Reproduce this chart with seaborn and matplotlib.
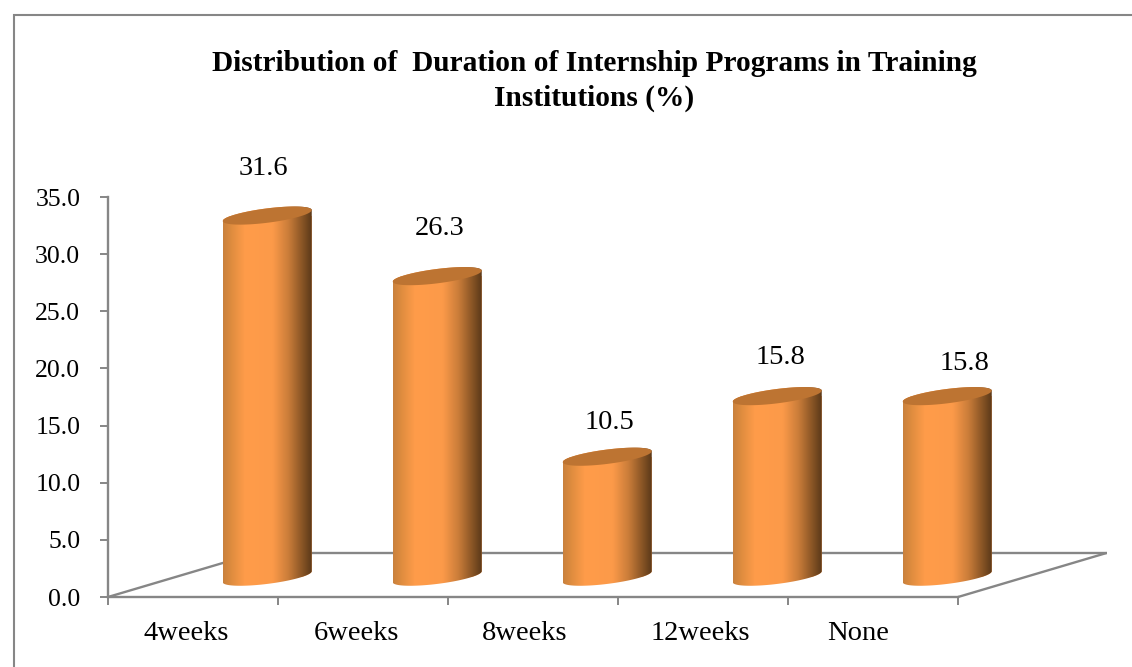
import numpy as np
import matplotlib
matplotlib.use("Agg")
import matplotlib.pyplot as plt
import seaborn as sns
from matplotlib.colors import LinearSegmentedColormap
from matplotlib.lines import Line2D
from matplotlib.patches import Polygon
from matplotlib.transforms import Affine2D

categories = ["4weeks", "6weeks", "8weeks", "12weeks", "None"]
values = [31.6, 26.3, 10.5, 15.8, 15.8]
y_ticks = [0, 5, 10, 15, 20, 25, 30, 35]
title_text = "Distribution of  Duration of Internship Programs in Training\nInstitutions (%)"

# layout (pixels / style only)
W, H = 1132, 667
AX_L, AX_R, AX_T, AX_B = 108, 958, 197, 597
label_nudge = [(-4, 35), (2, 35), (2, 22), (3, 26), (17, 20)]
tick_nudge = [-7, -7, -8, -3, -14.5]
GREY = "#868686"

sns.set_theme(style="white")
plt.rcParams["font.family"] = ["Liberation Serif", "DejaVu Serif"]

fig = plt.figure(figsize=(W / 100, H / 100), dpi=100, facecolor="white")
ax = fig.add_axes([AX_L / W, 1 - AX_B / H, (AX_R - AX_L) / W, (AX_B - AX_T) / H])

df = {"cat": categories, "val": values}
sns.barplot(x="cat", y="val", data=df, ax=ax, width=0.5235, color="#FF9B4A",
            saturation=1, linewidth=0, zorder=3)

ax.set_xlim(-0.5, 4.5)
ax.set_ylim(0, 35)
px_x = (AX_R - AX_L) / 5
px_y = (AX_B - AX_T) / 35

# perspective floor: bars stand at its mid-depth
floor_dx, floor_dy = 148.5 / px_x, 44 / px_y
dx, dy = floor_dx / 2, floor_dy / 2 - 0.15
tilt, minor = 5.5 / px_y, 7.2 / px_y

floor_kw = dict(color=GREY, lw=1.7, clip_on=False, zorder=1, solid_capstyle="butt")
ax.plot([-0.5, -0.5 + floor_dx], [0, floor_dy], **floor_kw)
ax.plot([-0.5 + floor_dx, 4.5 + floor_dx], [floor_dy, floor_dy], **floor_kw)
ax.plot([4.5, 4.5 + floor_dx], [0, floor_dy], **floor_kw)

cmap = LinearSegmentedColormap.from_list(
    "cyl",
    [(0.0, "#C9813D"), (0.1, "#E08D3F"), (0.25, "#FF9C4A"), (0.56, "#FC9A49"),
     (0.74, "#C97C39"), (0.88, "#8E5827"), (1.0, "#5B3919")],
)
grad = np.linspace(0, 1, 256)[None, :]


def ellipse(cx, cy, a, t):
    return np.c_[cx + a * np.cos(t), cy + tilt * np.cos(t) + minor * np.sin(t)]


for bar, val, nudge in zip(ax.patches, values, label_nudge):
    a = bar.get_width() / 2
    cx = bar.get_x() + a + dx
    base, top = dy, val + dy
    outline = np.vstack([
        ellipse(cx, top, a, np.linspace(np.pi, 0, 80)),
        ellipse(cx, base, a, np.linspace(0, -np.pi, 80)),
    ])
    clip = Polygon(outline, closed=True, transform=ax.transData)
    bar.set_transform(Affine2D().translate(dx, dy) + ax.transData)
    bar.set_clip_box(fig.bbox)
    bar.set_clip_path(clip)
    im = ax.imshow(grad, cmap=cmap, aspect="auto", zorder=4, interpolation="bilinear",
                   extent=[cx - a, cx + a, base - 1.5, top + 1.5])
    im.set_clip_box(fig.bbox)
    im.set_clip_path(clip)
    cap = Polygon(ellipse(cx, top, a, np.linspace(0, 2 * np.pi, 120)), closed=True,
                  facecolor="#BD7432", edgecolor="none", zorder=5, clip_on=False)
    ax.add_patch(cap)
    ax.annotate(f"{val:.1f}", xy=(cx, top), xytext=nudge,
                textcoords="offset pixels", ha="center", va="bottom", fontsize=20.5,
                color="black", annotation_clip=False, zorder=6)

ax.set_xlim(-0.5, 4.5)
ax.set_ylim(0, 35)
ax.set_xlabel("")
ax.set_ylabel("")
ax.set_yticks(y_ticks)
ax.set_yticklabels([f"{t:.1f}" for t in y_ticks], fontsize=18.5, color="black")
ax.set_xticks(np.arange(-0.5, 5, 1))
ax.set_xticklabels([""] * 6)
for i, (name, n) in enumerate(zip(categories, tick_nudge)):
    ax.annotate(name, xy=(i, 0), xytext=(n, -36), textcoords="offset pixels",
                ha="center", va="center", fontsize=20.5, color="black", annotation_clip=False)

ax.tick_params(axis="x", which="major", direction="out", length=5.5, width=1.4,
               color=GREY, bottom=True)
ax.tick_params(axis="y", which="major", direction="out", length=5.5, width=1.4,
               color=GREY, left=True, pad=14.4)
sns.despine(ax=ax)
for s in ("left", "bottom"):
    ax.spines[s].set_color(GREY)
    ax.spines[s].set_linewidth(1.7)

fig.text(594 / W, 1 - 81 / H, title_text, ha="center", va="center", fontsize=21.2,
         fontweight="bold", color="black", linespacing=1.4)

# outer chart frame
frame_kw = dict(color=GREY, lw=1.5, solid_capstyle="butt")
fig.add_artist(Line2D([13.5 / W, 13.5 / W], [0, 1 - 13.5 / H], **frame_kw))
fig.add_artist(Line2D([12.5 / W, 1], [1 - 14.5 / H, 1 - 14.5 / H], **frame_kw))

fig.savefig("out.png", dpi=100, facecolor="white")
